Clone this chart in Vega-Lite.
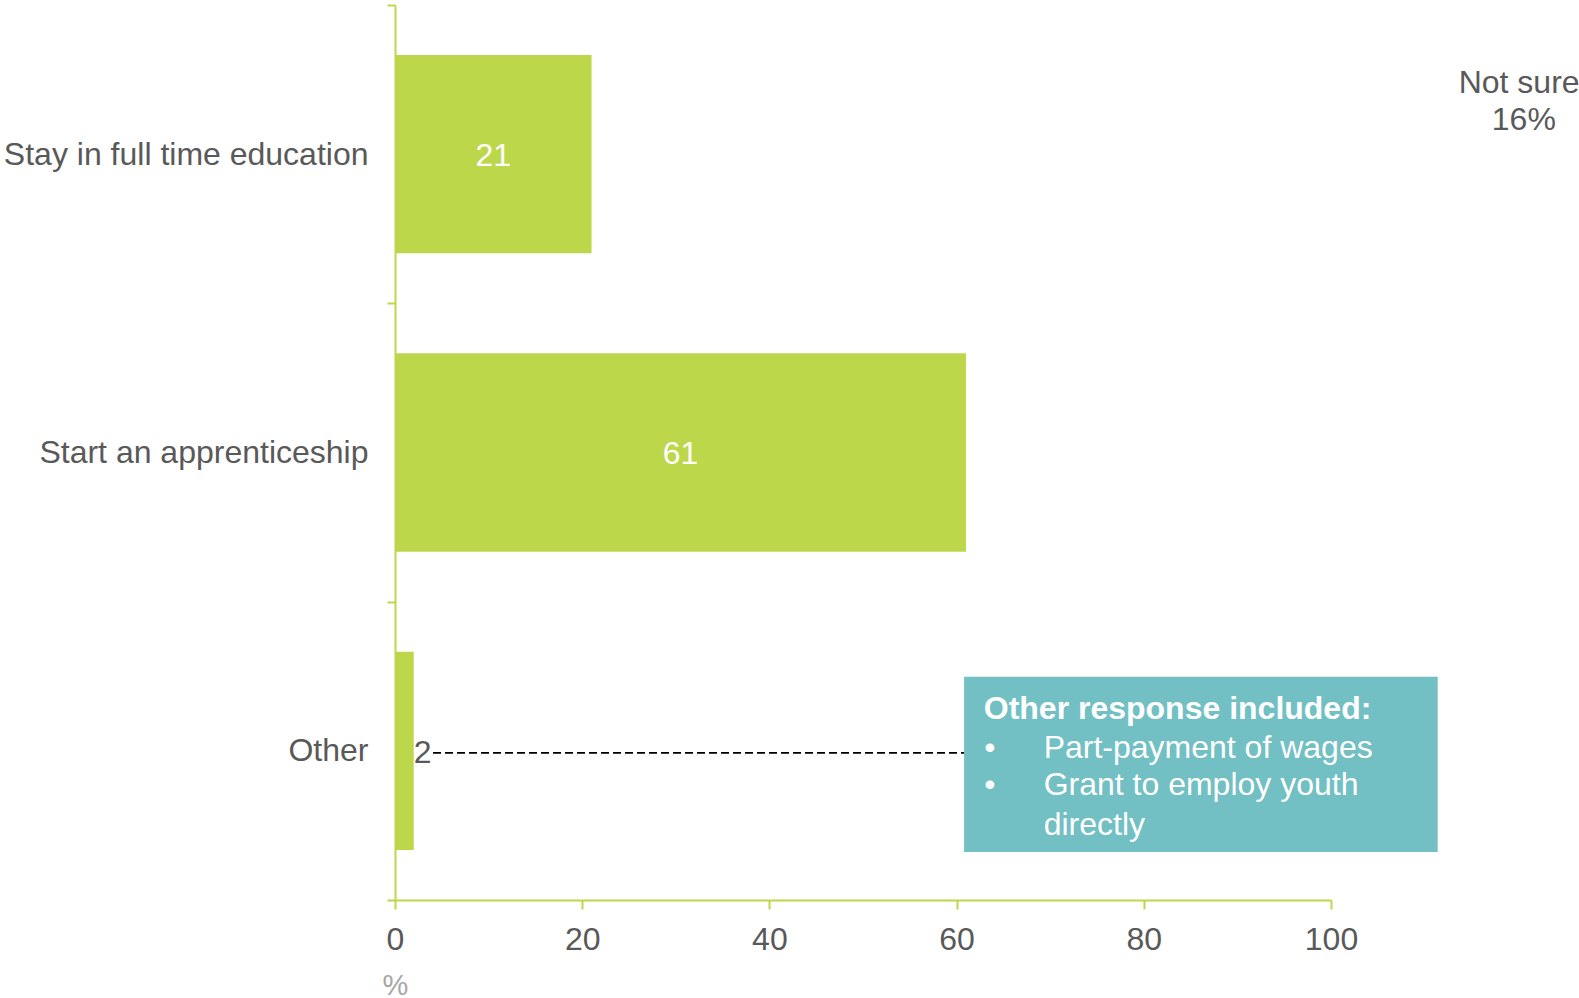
{
  "$schema": "https://vega.github.io/schema/vega-lite/v6.json",
  "autosize": {"type": "none"},
  "width": 936,
  "height": 895,
  "padding": {"left": 395, "top": 5, "right": 248, "bottom": 98},
  "config": {"view": {"stroke": null}, "font": "Liberation Sans", "text": {"font": "Liberation Sans", "fontSize": 32}},
  "layer": [
    {
      "data": {"values": [
        {"option": "Stay in full time education", "pct": 21},
        {"option": "Start an apprenticeship", "pct": 61},
        {"option": "Other", "pct": 2}
      ]},
      "encoding": {
        "y": {"field": "option", "type": "nominal", "sort": null,
          "scale": {"paddingInner": 0, "paddingOuter": 0},
          "axis": {"title": null, "tickBand": "extent", "domainColor": "#BDD74B", "domainWidth": 2,
            "tickColor": "#BDD74B", "tickWidth": 2, "tickSize": 8, "labelFont": "Liberation Sans",
            "labelFontSize": 32, "labelColor": "#595959", "labelPadding": 19, "labelLimit": 500}}
      },
      "layer": [
        {
          "mark": {"type": "bar", "color": "#BDD74B", "height": {"band": 0.665}},
          "encoding": {
            "x": {"field": "pct", "type": "quantitative", "scale": {"domain": [0, 100], "nice": false},
              "axis": {"values": [0, 20, 40, 60, 80, 100], "grid": false, "domainColor": "#BDD74B", "domainWidth": 2,
                "tickColor": "#BDD74B", "tickWidth": 2, "tickSize": 9, "labelFont": "Liberation Sans",
                "labelFontSize": 32, "labelColor": "#595959", "labelPadding": 15, "labelFlush": false,
                "title": "%", "titleAnchor": "start", "titleAlign": "center", "titleColor": "#A6A6A6",
                "titleFont": "Liberation Sans", "titleFontSize": 29, "titleFontWeight": "normal", "titlePadding": 16}}
          }
        },
        {
          "transform": [{"filter": "datum.pct >= 10"}, {"calculate": "datum.pct / 2", "as": "mid"}],
          "mark": {"type": "text", "color": "white", "align": "center", "baseline": "middle", "fontSize": 32, "dy": 1.5},
          "encoding": {
            "x": {"field": "mid", "type": "quantitative", "scale": {"domain": [0, 100], "nice": false}},
            "text": {"field": "pct", "type": "quantitative"}
          }
        },
        {
          "transform": [{"filter": "datum.pct < 10"}],
          "mark": {"type": "text", "color": "#595959", "align": "left", "baseline": "middle", "fontSize": 32, "dy": 2},
          "encoding": {
            "x": {"field": "pct", "type": "quantitative", "scale": {"domain": [0, 100], "nice": false}},
            "text": {"field": "pct", "type": "quantitative"}
          }
        }
      ]
    },
    {
      "layer": [
        {
          "data": {"values": [{"x": 4.06, "x2": 60.8, "y": 2.507}]},
          "mark": {"type": "rule", "color": "black", "strokeWidth": 1.7, "strokeDash": [8, 4]},
          "encoding": {
            "x": {"field": "x", "type": "quantitative", "scale": {"domain": [0, 100], "nice": false}, "axis": null},
            "x2": {"field": "x2"},
            "y": {"field": "y", "type": "quantitative", "scale": {"domain": [0, 3], "reverse": true, "nice": false, "zero": false}, "axis": null}
          }
        },
        {
          "data": {"values": [{"x": 60.8, "x2": 111.4, "y": 2.252, "y2": 2.839}]},
          "mark": {"type": "rect", "color": "#72BFC4"},
          "encoding": {
            "x": {"field": "x", "type": "quantitative", "scale": {"domain": [0, 100], "nice": false}, "axis": null},
            "x2": {"field": "x2"},
            "y": {"field": "y", "type": "quantitative", "scale": {"domain": [0, 3], "reverse": true, "nice": false, "zero": false}, "axis": null},
            "y2": {"field": "y2"}
          }
        },
        {
          "data": {"values": [{"t": "Other response included:", "x": 62.9, "y": 2.361}]},
          "mark": {"type": "text", "color": "white", "align": "left", "baseline": "middle", "fontSize": 32, "fontWeight": "bold"},
          "encoding": {
            "x": {"field": "x", "type": "quantitative", "scale": {"domain": [0, 100], "nice": false}, "axis": null},
            "y": {"field": "y", "type": "quantitative", "scale": {"domain": [0, 3], "reverse": true, "nice": false, "zero": false}, "axis": null},
            "text": {"field": "t"}
          }
        },
        {
          "data": {"values": [{"t": "•", "x": 62.95, "y": 2.489}, {"t": "•", "x": 62.95, "y": 2.616}]},
          "mark": {"type": "text", "color": "white", "align": "left", "baseline": "middle", "fontSize": 32},
          "encoding": {
            "x": {"field": "x", "type": "quantitative", "scale": {"domain": [0, 100], "nice": false}, "axis": null},
            "y": {"field": "y", "type": "quantitative", "scale": {"domain": [0, 3], "reverse": true, "nice": false, "zero": false}, "axis": null},
            "text": {"field": "t"}
          }
        },
        {
          "data": {"values": [
            {"t": "Part-payment of wages", "x": 69.3, "y": 2.489},
            {"t": "Grant to employ youth", "x": 69.3, "y": 2.616},
            {"t": "directly", "x": 69.3, "y": 2.747}
          ]},
          "mark": {"type": "text", "color": "white", "align": "left", "baseline": "middle", "fontSize": 32},
          "encoding": {
            "x": {"field": "x", "type": "quantitative", "scale": {"domain": [0, 100], "nice": false}, "axis": null},
            "y": {"field": "y", "type": "quantitative", "scale": {"domain": [0, 3], "reverse": true, "nice": false, "zero": false}, "axis": null},
            "text": {"field": "t"}
          }
        },
        {
          "data": {"values": [
            {"t": "Not sure", "x": 120.1, "y": 0.26},
            {"t": "16%", "x": 120.6, "y": 0.387}
          ]},
          "mark": {"type": "text", "color": "#595959", "align": "center", "baseline": "middle", "fontSize": 32},
          "encoding": {
            "x": {"field": "x", "type": "quantitative", "scale": {"domain": [0, 100], "nice": false}, "axis": null},
            "y": {"field": "y", "type": "quantitative", "scale": {"domain": [0, 3], "reverse": true, "nice": false, "zero": false}, "axis": null},
            "text": {"field": "t"}
          }
        }
      ]
    }
  ],
  "resolve": {"scale": {"y": "independent", "x": "independent"}}
}
